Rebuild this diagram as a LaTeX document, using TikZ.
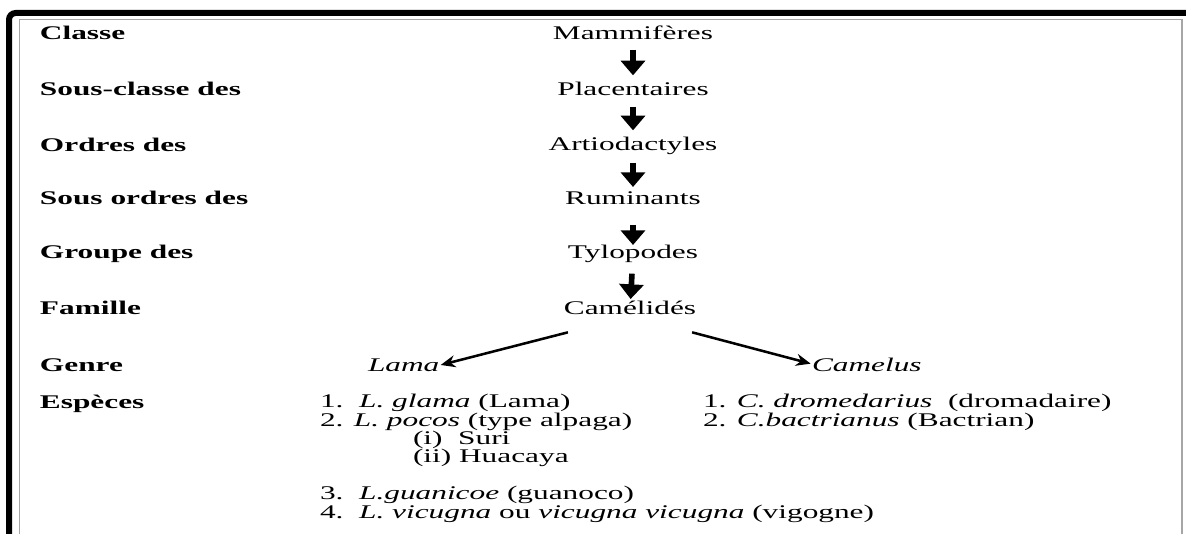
\documentclass[tikz,border=0pt]{standalone}
\usepackage{fontspec}
\setmainfont{Liberation Serif}[FakeStretch=1.62]
\usetikzlibrary{arrows.meta}
\tikzset{
  txt/.style={inner sep=0pt, outer sep=0pt, text height=9.5pt, text depth=3pt,
    font=\fontsize{14.5pt}{16pt}\selectfont, text=black},
  lbl/.style={txt, anchor=base west, font=\fontsize{14.5pt}{16pt}\selectfont\bfseries},
  ctr/.style={txt, anchor=base},
  lst/.style={txt, anchor=base west},
  bigarrow/.style={line width=4.2pt, -{Triangle[width=18pt,length=11pt]}},
  diagarrow/.style={line width=1.9pt, -{Stealth[width=9pt,length=11pt]}},
}
\begin{document}
\begin{tikzpicture}[x=0.75pt,y=-0.75pt]
\useasboundingbox (0,0) rectangle (1186,534);
% frame
\draw[line width=4.5pt, rounded corners=5pt] (9,540) -- (9,13) -- (1190,13);
\draw[gray!70, line width=1.2pt] (19.5,540) -- (19.5,19.5) -- (1182,19.5) -- (1182,540);
% left labels
\node[lbl] (l1) at (40,40) {Classe};
\node[lbl] (l2) at (40,96) {Sous-classe des};
\node[lbl] (l3) at (40,152) {Ordres des};
\node[lbl] (l4) at (40,205) {Sous ordres des};
\node[lbl] (l5) at (40,259) {Groupe des};
\node[lbl] (l6) at (40,315) {Famille};
\node[lbl] (l7) at (40,372) {Genre};
\node[lbl] (l8) at (40,409) {Espèces};
% centre column
\node[ctr] (mam) at (633,40) {Mammifères};
\node[ctr] (pla) at (633,96) {Placentaires};
\node[ctr] (art) at (633,151) {Artiodactyles};
\node[ctr] (rum) at (633,205) {Ruminants};
\node[ctr] (tyl) at (633,259) {Tylopodes};
\node[ctr] (cam) at (630,315) {Camélidés};
\draw[bigarrow, shorten <=4.5pt, shorten >=6pt] (mam) -- (pla);
\draw[bigarrow, shorten <=5.25pt, shorten >=6pt] (pla) -- (art);
\draw[bigarrow, shorten <=6pt, shorten >=4pt] (art) -- (rum);
\draw[bigarrow, shorten <=12pt, shorten >=1pt] (rum) -- (tyl);
\draw[bigarrow, shorten <=8pt, shorten >=2.5pt] (tyl) -- (cam);
% genus
\node[lst] (lama) at (368,372) {\textit{Lama}};
\node[lst] (camel) at (812,372) {\textit{Camelus}};
\draw[diagarrow] ([xshift=3pt,yshift=-10pt]cam.south west) -- ([xshift=1pt,yshift=2pt]lama.east);
\draw[diagarrow] ([xshift=-3pt,yshift=-10pt]cam.south east) -- ([xshift=-1pt,yshift=3pt]camel.west);
% species
\node[lst] (sp1) at (320,408) {1.\ \ \textit{L. glama} (Lama)};
\node[lst] (sp2) at (320,427) {2. \textit{L. pocos} (type alpaga)};
\node[lst] (sp2a) at (413,445) {(i)\ \ Suri};
\node[lst] (sp2b) at (413,463) {(ii) Huacaya};
\node[lst] (sp3) at (320,500) {3.\ \ \textit{L.guanicoe} (guanoco)};
\node[lst] (sp4) at (320,518) {4.\ \ \textit{L. vicugna} ou \textit{vicugna vicugna} (vigogne)};
\node[lst] (cs1) at (703,408) {1. \textit{C. dromedarius}\ \ (dromadaire)};
\node[lst] (cs2) at (703,427) {2. \textit{C.bactrianus} (Bactrian)};
\end{tikzpicture}
\end{document}
